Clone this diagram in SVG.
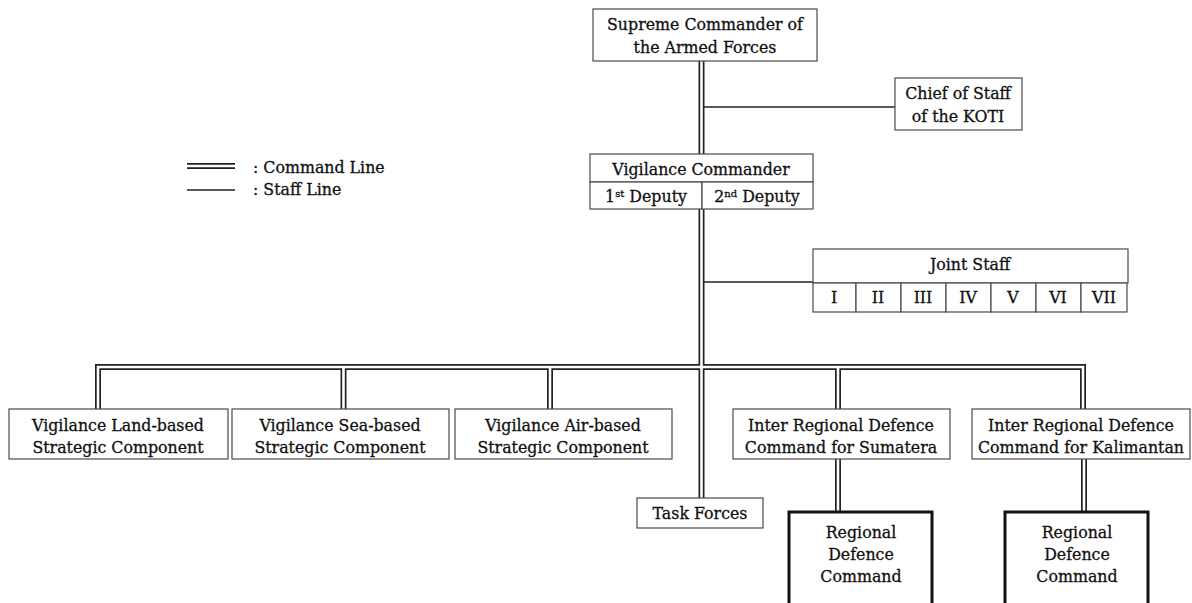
<svg xmlns="http://www.w3.org/2000/svg" width="1192" height="603" viewBox="0 0 1192 603">
  <style>
    text { font-family: "DejaVu Serif", "Liberation Serif", serif; font-size: 15.8px; fill: #111111; stroke: #111111; stroke-width: 0.3; text-anchor: middle; }
    .box { fill: #ffffff; stroke: #4a4a4a; stroke-width: 1.2; }
    .thick { fill: #ffffff; stroke: #111111; stroke-width: 3; }
    .cmd-out { fill: none; stroke: #222222; stroke-width: 6; }
    .cmd-in { fill: none; stroke: #ffffff; stroke-width: 2.6; }
    .staff { fill: none; stroke: #222222; stroke-width: 1.6; }
    .legend { text-anchor: start; }
    .sup { font-size: 10px; }
  </style>
  <defs>
    <!-- double-line command routes: dark outer stroke with white core -->
    <path id="trunk" d="M701.5,61 V498"/>
    <path id="bus" d="M98,409 V367 H1083 V410"/>
    <path id="dropSea" d="M343.5,367 V409"/>
    <path id="dropAir" d="M550,367 V409"/>
    <path id="dropSum" d="M838,367 V512"/>
    <path id="dropKal" d="M1084,459 V512"/>
    <path id="legendCmd" d="M187,166 H235"/>
  </defs>

  <g id="connectors">
    <use href="#trunk" class="cmd-out"/>
    <use href="#bus" class="cmd-out"/>
    <use href="#dropSea" class="cmd-out"/>
    <use href="#dropAir" class="cmd-out"/>
    <use href="#dropSum" class="cmd-out"/>
    <use href="#dropKal" class="cmd-out"/>
    <use href="#bus" class="cmd-in"/>
    <use href="#dropSea" class="cmd-in"/>
    <use href="#dropAir" class="cmd-in"/>
    <use href="#dropSum" class="cmd-in"/>
    <use href="#dropKal" class="cmd-in"/>
    <use href="#trunk" class="cmd-in"/>
    <!-- staff lines -->
    <path class="staff" d="M704,107 H895"/>
    <path class="staff" d="M704,282 H813"/>
  </g>

  <g id="legend">
    <use href="#legendCmd" class="cmd-out"/>
    <use href="#legendCmd" class="cmd-in"/>
    <path class="staff" d="M187,190 H235"/>
    <text class="legend" x="253" y="173">: Command Line</text>
    <text class="legend" x="253" y="195">: Staff Line</text>
  </g>

  <g id="supreme-commander">
    <rect class="box" x="593" y="9" width="224" height="52"/>
    <text x="705" y="30">Supreme Commander of</text>
    <text x="705" y="53">the Armed Forces</text>
  </g>

  <g id="chief-of-staff">
    <rect class="box" x="895" y="78" width="127" height="52"/>
    <text x="958" y="99">Chief of Staff</text>
    <text x="958" y="122">of the KOTI</text>
  </g>

  <g id="vigilance-commander">
    <rect class="box" x="590" y="154" width="223" height="28"/>
    <rect class="box" x="590" y="182" width="112" height="27"/>
    <rect class="box" x="702" y="182" width="111" height="27"/>
    <text x="701" y="175">Vigilance Commander</text>
    <text x="646" y="202">1<tspan class="sup" dy="-5">st</tspan><tspan dy="5"> Deputy</tspan></text>
    <text x="757" y="202">2<tspan class="sup" dy="-5">nd</tspan><tspan dy="5"> Deputy</tspan></text>
  </g>

  <g id="joint-staff">
    <rect class="box" x="813" y="249" width="315" height="34"/>
    <rect class="box" x="813" y="283" width="43" height="29"/>
    <rect class="box" x="856" y="283" width="45" height="29"/>
    <rect class="box" x="901" y="283" width="45" height="29"/>
    <rect class="box" x="946" y="283" width="45" height="29"/>
    <rect class="box" x="991" y="283" width="45" height="29"/>
    <rect class="box" x="1036" y="283" width="45" height="29"/>
    <rect class="box" x="1081" y="283" width="46" height="29"/>
    <text x="970" y="270">Joint Staff</text>
    <text x="834" y="303">I</text>
    <text x="878" y="303">II</text>
    <text x="923" y="303">III</text>
    <text x="968" y="303">IV</text>
    <text x="1013" y="303">V</text>
    <text x="1058" y="303">VI</text>
    <text x="1104" y="303">VII</text>
  </g>

  <g id="land-component">
    <rect class="box" x="9" y="409" width="219" height="50"/>
    <text x="118" y="431">Vigilance Land-based</text>
    <text x="118" y="453">Strategic Component</text>
  </g>

  <g id="sea-component">
    <rect class="box" x="232" y="409" width="217" height="50"/>
    <text x="340" y="431">Vigilance Sea-based</text>
    <text x="340" y="453">Strategic Component</text>
  </g>

  <g id="air-component">
    <rect class="box" x="455" y="409" width="217" height="50"/>
    <text x="563" y="431">Vigilance Air-based</text>
    <text x="563" y="453">Strategic Component</text>
  </g>

  <g id="sumatera-command">
    <rect class="box" x="733" y="409" width="217" height="50"/>
    <text x="841" y="431">Inter Regional Defence</text>
    <text x="841" y="453">Command for Sumatera</text>
  </g>

  <g id="kalimantan-command">
    <rect class="box" x="972" y="409" width="218" height="50"/>
    <text x="1081" y="431">Inter Regional Defence</text>
    <text x="1081" y="453">Command for Kalimantan</text>
  </g>

  <g id="task-forces">
    <rect class="box" x="637" y="498" width="126" height="30"/>
    <text x="700" y="519">Task Forces</text>
  </g>

  <g id="regional-command-sumatera">
    <rect class="thick" x="789" y="512" width="143" height="100"/>
    <text x="861" y="538">Regional</text>
    <text x="861" y="560">Defence</text>
    <text x="861" y="582">Command</text>
  </g>

  <g id="regional-command-kalimantan">
    <rect class="thick" x="1005" y="512" width="143" height="100"/>
    <text x="1077" y="538">Regional</text>
    <text x="1077" y="560">Defence</text>
    <text x="1077" y="582">Command</text>
  </g>
</svg>
